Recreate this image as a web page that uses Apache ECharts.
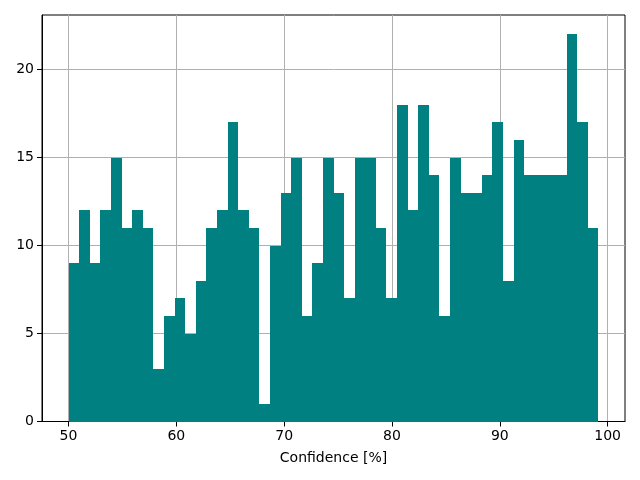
<!DOCTYPE html>
<html><head><meta charset="utf-8">
<script src="https://cdn.jsdelivr.net/npm/echarts@6/dist/echarts.min.js"></script>
<style>html,body{margin:0;padding:0;background:#fff}#c{width:640px;height:480px}</style>
</head><body><div id="c"></div>
<script>
const counts = [9,12,9,12,15,11,12,11,3,6,7,5,8,11,12,17,12,11,1,10,13,15,6,9,15,13,7,15,15,11,7,18,12,18,14,6,15,13,13,14,17,8,16,14,14,14,14,22,17,11];
const binStart = 50;
const binEnd = 99.15;
const xTicks = [50,60,70,80,90,100];
const yTicks = [0,5,10,15,20];
const xLabel = 'Confidence [%]';

const binW = (binEnd - binStart) / counts.length;
const data = counts.map((c,i)=>[binStart + i*binW, binStart + (i+1)*binW, c]);
const chart = echarts.init(document.getElementById('c'));
const font = 'DejaVu Sans';
chart.setOption({
  animation:false,
  grid:{left:42,right:15,top:15,bottom:58.5,show:true,borderColor:'#000',borderWidth:1,backgroundColor:'transparent'},
  xAxis:{type:'value',min:47.54,max:101.61,interval:10,
    name:xLabel,nameLocation:'middle',nameGap:30,nameTextStyle:{fontFamily:font,fontSize:14,color:'#000'},
    axisLine:{lineStyle:{color:'#000'}},
    axisTick:{show:true,length:5,lineStyle:{color:'#000'},customValues:xTicks},
    axisLabel:{fontFamily:font,fontSize:14,color:'#000',margin:8,customValues:xTicks},
    splitLine:{show:true,lineStyle:{color:'#b0b0b0',width:1},customValues:xTicks}
  },
  yAxis:{type:'value',min:0,max:23.1,interval:5,
    axisLine:{show:true,lineStyle:{color:'#000'}},
    axisTick:{show:true,length:5,lineStyle:{color:'#000'},customValues:yTicks},
    axisLabel:{fontFamily:font,fontSize:14,color:'#000',margin:8,customValues:yTicks},
    splitLine:{show:true,lineStyle:{color:'#b0b0b0',width:1},customValues:yTicks}
  },
  series:[{type:'custom',data:data,encode:{x:[0,1],y:2},
    renderItem:function(params,api){
      const p0=api.coord([api.value(0),0]);
      const p1=api.coord([api.value(1),api.value(2)]);
      const x0=Math.round(p0[0]), x1=Math.round(p1[0]);
      const y0=Math.round(p0[1]), y1=Math.round(p1[1]);
      return {type:'rect',shape:{x:x0,y:y1,width:x1-x0,height:y0-y1},
        style:{fill:'#008080'}};
    }}]
});
</script></body></html>
